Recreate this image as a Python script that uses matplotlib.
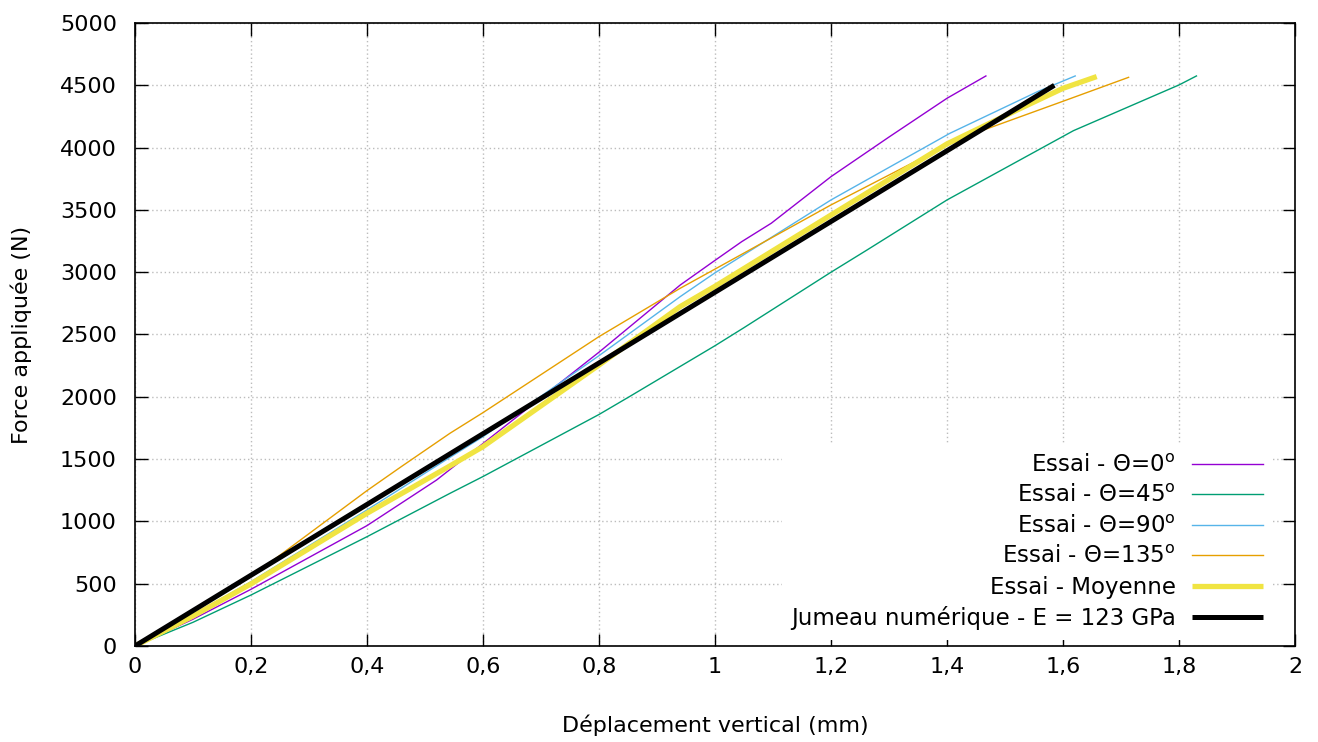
import matplotlib
matplotlib.use("Agg")
import matplotlib.pyplot as plt
from matplotlib.ticker import FuncFormatter

# Essai - Theta = 0
x_0 = [0, 0.1, 0.2, 0.4, 0.52, 0.6, 0.8, 0.94, 1.0, 1.046, 1.097, 1.2, 1.3, 1.4, 1.467]
f_0 = [0, 215, 455, 966, 1332, 1625, 2358, 2897, 3095, 3245, 3393, 3767, 4085, 4396, 4575]

# Essai - Theta = 45
x_45 = [0, 0.1, 0.2, 0.4, 0.543, 0.6, 0.8, 0.852, 1.0, 1.05, 1.2, 1.262, 1.4, 1.618, 1.8, 1.83]
f_45 = [0, 190, 409, 877, 1225, 1360, 1858, 2000, 2410, 2555, 3000, 3178, 3580, 4136, 4503, 4575]

# Essai - Theta = 90
x_90 = [0, 0.1, 0.2, 0.4, 0.543, 0.6, 0.8, 0.94, 1.0, 1.2, 1.405, 1.556, 1.621]
f_90 = [0, 250, 516, 1092, 1514, 1680, 2330, 2804, 2995, 3580, 4115, 4449, 4575]

# Essai - Theta = 135
x_135 = [0, 0.1, 0.2, 0.4, 0.459, 0.543, 0.6, 0.8, 0.94, 1.0, 1.2, 1.4, 1.463, 1.6, 1.713]
f_135 = [0, 280, 556, 1247, 1439, 1707, 1873, 2483, 2871, 3025, 3540, 4020, 4141, 4372, 4564]

# Essai - Moyenne
x_moy = [0, 0.1, 0.2, 0.4, 0.543, 0.6, 0.8, 0.94, 1.0, 1.2, 1.4, 1.52, 1.6, 1.658]
f_moy = [0, 240, 498, 1065, 1445, 1600, 2255, 2724, 2887, 3459, 4030, 4300, 4476, 4570]

# Jumeau numerique
x_jum = [0, 1.585]
f_jum = [0, 4500]

plt.rcParams['font.family'] = ['DejaVu Sans']
plt.rcParams['mathtext.fontset'] = 'dejavusans'

fig = plt.figure(figsize=(13.18, 7.42), dpi=100)
ax = fig.add_axes([0.1024, 0.1294, 0.8802, 0.8396])

ax.plot(x_0, f_0, color='#9400d3', lw=1.0, label=r'Essai - Θ=0$^{\mathrm{o}}$')
ax.plot(x_45, f_45, color='#009e73', lw=1.0, label=r'Essai - Θ=45$^{\mathrm{o}}$')
ax.plot(x_90, f_90, color='#56b4e9', lw=1.0, label=r'Essai - Θ=90$^{\mathrm{o}}$')
ax.plot(x_135, f_135, color='#e69f00', lw=1.0, label=r'Essai - Θ=135$^{\mathrm{o}}$')
ax.plot(x_moy, f_moy, color='#f0e442', lw=3.8, label='Essai - Moyenne', solid_capstyle='butt')
ax.plot(x_jum, f_jum, color='black', lw=3.6, label='Jumeau numérique - E = 123 GPa', solid_capstyle='butt')

ax.set_xlim(0, 2)
ax.set_ylim(0, 5000)
ax.set_xticks([i * 0.2 for i in range(11)])
ax.set_yticks(range(0, 5001, 500))
ax.xaxis.set_major_formatter(FuncFormatter(lambda v, p: ('%g' % round(v, 1)).replace('.', ',')))

ax.grid(True, color='#bcbcbc', lw=1.0, linestyle=(0, (1, 2)))
ax.set_axisbelow(True)
ax.tick_params(direction='in', length=9, width=1, top=True, right=True, labelsize=16)
ax.tick_params(axis='x', pad=8)
ax.tick_params(axis='y', pad=13)
for s in ax.spines.values():
    s.set_linewidth(1.2)

ax.set_xlabel('Déplacement vertical (mm)', fontsize=16, labelpad=27)
ax.set_ylabel('Force appliquée (N)', fontsize=16, labelpad=20)

leg = ax.legend(loc='lower right', bbox_to_anchor=(0.99, -0.008), fontsize=16.5,
                markerfirst=False, frameon=True, framealpha=1.0,
                handlelength=3.1, labelspacing=0.33, borderpad=0.4,
                handletextpad=0.7, fancybox=False)
leg.get_frame().set_edgecolor('none')
leg.get_frame().set_facecolor('white')

fig.savefig('out.png', dpi=100)
